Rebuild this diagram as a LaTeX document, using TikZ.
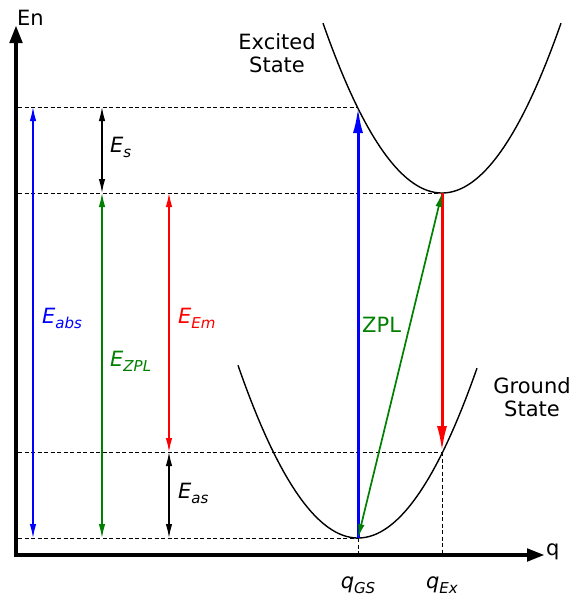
\documentclass[tikz,border=0pt]{standalone}
\usepackage{fontspec}
\setmainfont{DejaVu Sans}
\usetikzlibrary{arrows.meta}
\newcommand\sublbl[2]{\textit{#1}\raisebox{-5pt}{\fontsize{15}{15}\selectfont\textit{#2}}}
\tikzset{
  guide/.style={line width=0.9pt, dash pattern=on 4pt off 2.5pt},
  axis/.style={line width=4.5pt, line join=miter, arrows={Triangle[length=18pt,width=12pt]-Triangle[length=18pt,width=12pt]}},
  dbl/.style={line width=1.3pt, arrows={Latex[length=14pt,width=6.5pt]-Latex[length=14pt,width=6.5pt]}},
  zplarrow/.style={line width=1.7pt, draw={rgb,255:red,0;green,128;blue,0}, arrows={Latex[length=14pt,width=6.5pt]-Latex[length=14pt,width=6.5pt]}},
  thickarrow/.style={line width=3pt, arrows={-Latex[length=26pt,width=10pt]}},
  curve/.style={line width=1.4pt},
  lbl/.style={inner sep=0pt, anchor=base west},
  state/.style={inner sep=0pt, align=center, font=\fontsize{21}{23.5}\selectfont}
}
\definecolor{zgreen}{RGB}{0,128,0}
\begin{document}
\begin{tikzpicture}[x=1pt, y=-1pt, font=\fontsize{21}{24}\selectfont]
\useasboundingbox (0,0) rectangle (587,597);
% key coordinates
\coordinate (O) at (16,555);
\coordinate (Ytop) at (16,25);
\coordinate (Xend) at (545,555);
\coordinate (L1) at (18,107);
\coordinate (L2) at (18,193);
\coordinate (L3) at (18,452);
\coordinate (L4) at (18,538);
\coordinate (exA) at (358,107);
\coordinate (exMin) at (442,193);
\coordinate (gsB) at (442,452);
\coordinate (gsMin) at (358,538);
\coordinate (qgsAx) at (358,555);
\coordinate (qexAx) at (442,555);
\coordinate (a1t) at (33,107);  \coordinate (a1b) at (33,538);
\coordinate (a2t) at (102,193); \coordinate (a2b) at (102,538);
\coordinate (a3t) at (102,107); \coordinate (a3b) at (102,193);
\coordinate (a4t) at (169,193); \coordinate (a4b) at (169,452);
\coordinate (a5t) at (169,452); \coordinate (a5b) at (169,538);
% dashed guides
\draw[guide] (L1) -- (exA);
\draw[guide] (L2) -- (exMin);
\draw[guide] (L3) -- (gsB);
\draw[guide] (L4) -- (gsMin);
\draw[guide] (gsMin) -- (qgsAx);
\draw[guide] (gsB) -- (qexAx);
% parabolas
\draw[curve] plot[domain=323:561, samples=80] (\x, {193-0.012*(\x-442)^2});
\draw[curve] plot[domain=238:477, samples=80] (\x, {538-0.012*(\x-358)^2});
% axes
\draw[axis] (Ytop) -- (O) -- (Xend);
% energy arrows
\draw[dbl, blue] (a1b) -- (a1t);
\draw[dbl, zgreen] (a2b) -- (a2t);
\draw[dbl, black] (a3t) -- (a3b);
\draw[dbl, red] (a4t) -- (a4b);
\draw[dbl, black] (a5t) -- (a5b);
% transitions
\draw[thickarrow, blue] (gsMin) -- (exA);
\draw[thickarrow, red] (exMin) -- (gsB);
\draw[zplarrow] (gsMin) -- (exMin);
% labels
\node[lbl] (En) at (17,25) {En};
\node[lbl] (q) at (546,555) {q};
\node[state] (exc) at (277,53) {Excited\\State};
\node[state] (gnd) at (532,397) {Ground\\State};
\node[lbl] (Es) at (110,152) {\sublbl{E}{s}};
\node[lbl, blue] (Eabs) at (42,323) {\sublbl{E}{abs}};
\node[lbl, zgreen] (Ezpl) at (110,366) {\sublbl{E}{ZPL}};
\node[lbl, red] (Eem) at (178,323) {\sublbl{E}{Em}};
\node[lbl] (Eas) at (178,498) {\sublbl{E}{as}};
\node[lbl, zgreen] (zpl) at (362,332) {ZPL};
\node[inner sep=0pt, anchor=base] (qgs) at (358,588) {\sublbl{q}{GS}};
\node[inner sep=0pt, anchor=base] (qex) at (442,588) {\sublbl{q}{Ex}};
\end{tikzpicture}
\end{document}
